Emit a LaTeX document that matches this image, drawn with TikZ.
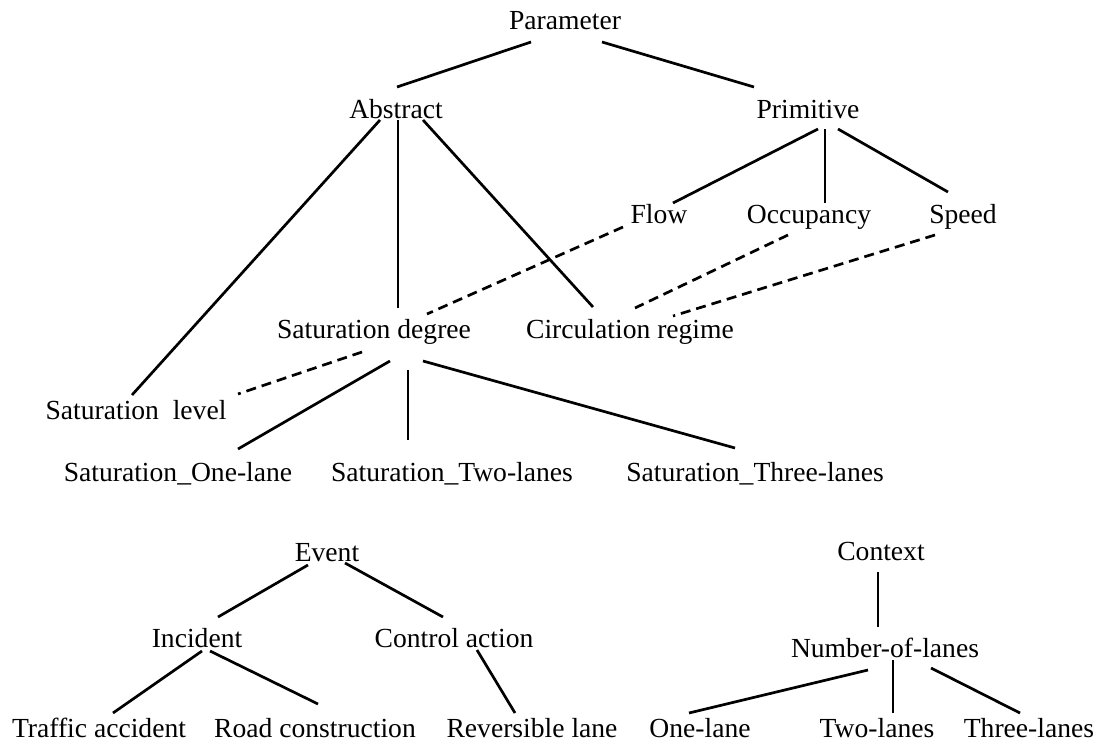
\documentclass[tikz,border=0pt]{standalone}
\usepackage{fontspec}
\setmainfont{Liberation Serif}
\usetikzlibrary{calc}
\begin{document}
\begin{tikzpicture}[x=0.5pt,y=-0.5pt]

        \useasboundingbox (0,0) rectangle (1104,744);

        \begin{scope}[every node/.style={anchor=base, inner sep=0pt, font=\fontsize{13.8}{16}\selectfont}]
          \node (par)      at (565,30)  {Parameter};
          \node (abs)      at (396,118) {Abstract};
          \node (prim)     at (808,118) {Primitive};
          \node (flow)     at (659,223) {Flow};
          \node (occ)      at (809,223) {Occupancy};
          \node (speed)    at (963,223) {Speed};
          \node (satdeg)   at (374,338) {Saturation degree};
          \node (circ)     at (630,338) {Circulation regime};
          \node (satlev)   at (136,419) {Saturation\ \ level};
          \node (satone)   at (178,481) {Saturation\_One-lane};
          \node (sattwo)   at (452,481) {Saturation\_Two-lanes};
          \node (satthree) at (755,481) {Saturation\_Three-lanes};
          \node (event)    at (327,561) {Event};
          \node (incident) at (197,647) {Incident};
          \node (control)  at (454,647) {Control action};
          \node (traffic)  at (99,737)  {Traffic accident};
          \node (road)     at (315,737) {Road construction};
          \node (rev)      at (532,737) {Reversible lane};
          \node (context)  at (881,560) {Context};
          \node (nol)      at (885,657) {Number-of-lanes};
          \node (one)      at (700,737) {One-lane};
          \node (two)      at (877,737) {Two-lanes};
          \node (three)    at (1029,737) {Three-lanes};
        \end{scope}

        \begin{scope}[line width=1.35pt]

          \begin{scope}[every edge/.style={draw}]
            \path ($(par.base)+(-34,12)$)     edge ($(abs.base)+(1,-31)$);
            \path ($(par.base)+(37,12)$)      edge ($(prim.base)+(-54,-31)$);
            \path ($(abs.base)+(-16,2)$)      edge ($(satlev.base)+(-4,-24)$);
            \path ($(abs.base)+(2,2)$)        edge ($(satdeg.base)+(24,-30)$);
            \path ($(abs.base)+(27,2)$)       edge ($(circ.base)+(-37,-31)$);
            \path ($(prim.base)+(10,11)$)     edge ($(flow.base)+(14,-20)$);
            \path ($(prim.base)+(17,11)$)     edge ($(occ.base)+(16,-20)$);
            \path ($(prim.base)+(30,11)$)     edge ($(speed.base)+(-15,-31)$);
            \path ($(satdeg.base)+(16,23)$)   edge ($(satone.base)+(60,-32)$);
            \path ($(satdeg.base)+(34,32)$)   edge ($(sattwo.base)+(-44,-41)$);
            \path ($(satdeg.base)+(49,23)$)   edge ($(satthree.base)+(-20,-33)$);
            \path ($(event.base)+(-19,4)$)    edge ($(incident.base)+(21,-30)$);
            \path ($(event.base)+(18,2)$)     edge ($(control.base)+(-11,-30)$);
            \path ($(incident.base)+(5,4)$)   edge ($(traffic.base)+(14,-24)$);
            \path ($(incident.base)+(13,4)$)  edge ($(road.base)+(3,-33)$);
            \path ($(control.base)+(23,3)$)   edge ($(rev.base)+(-17,-24)$);
            \path ($(context.base)+(-3,12)$)  edge ($(nol.base)+(-7,-30)$);
            \path ($(nol.base)+(-17,13)$)     edge ($(one.base)+(-11,-24)$);
            \path ($(nol.base)+(8,3)$)        edge ($(two.base)+(16,-24)$);
            \path ($(nol.base)+(46,11)$)      edge ($(three.base)+(-9,-24)$);
          \end{scope}

          % dashed links
          \begin{scope}[every edge/.style={draw, dash pattern=on 5pt off 3pt}]
            \path ($(flow.base)+(-36,4)$)     edge ($(satdeg.base)+(53,-24)$);
            \path ($(occ.base)+(-21,12)$)     edge ($(circ.base)+(5,-30)$);
            \path ($(speed.base)+(-28,12)$)   edge ($(circ.base)+(43,-22)$);
            \path ($(satdeg.base)+(-12,14)$)  edge ($(satlev.base)+(102,-25)$);
          \end{scope}
        \end{scope}

      \end{tikzpicture}
\end{document}
